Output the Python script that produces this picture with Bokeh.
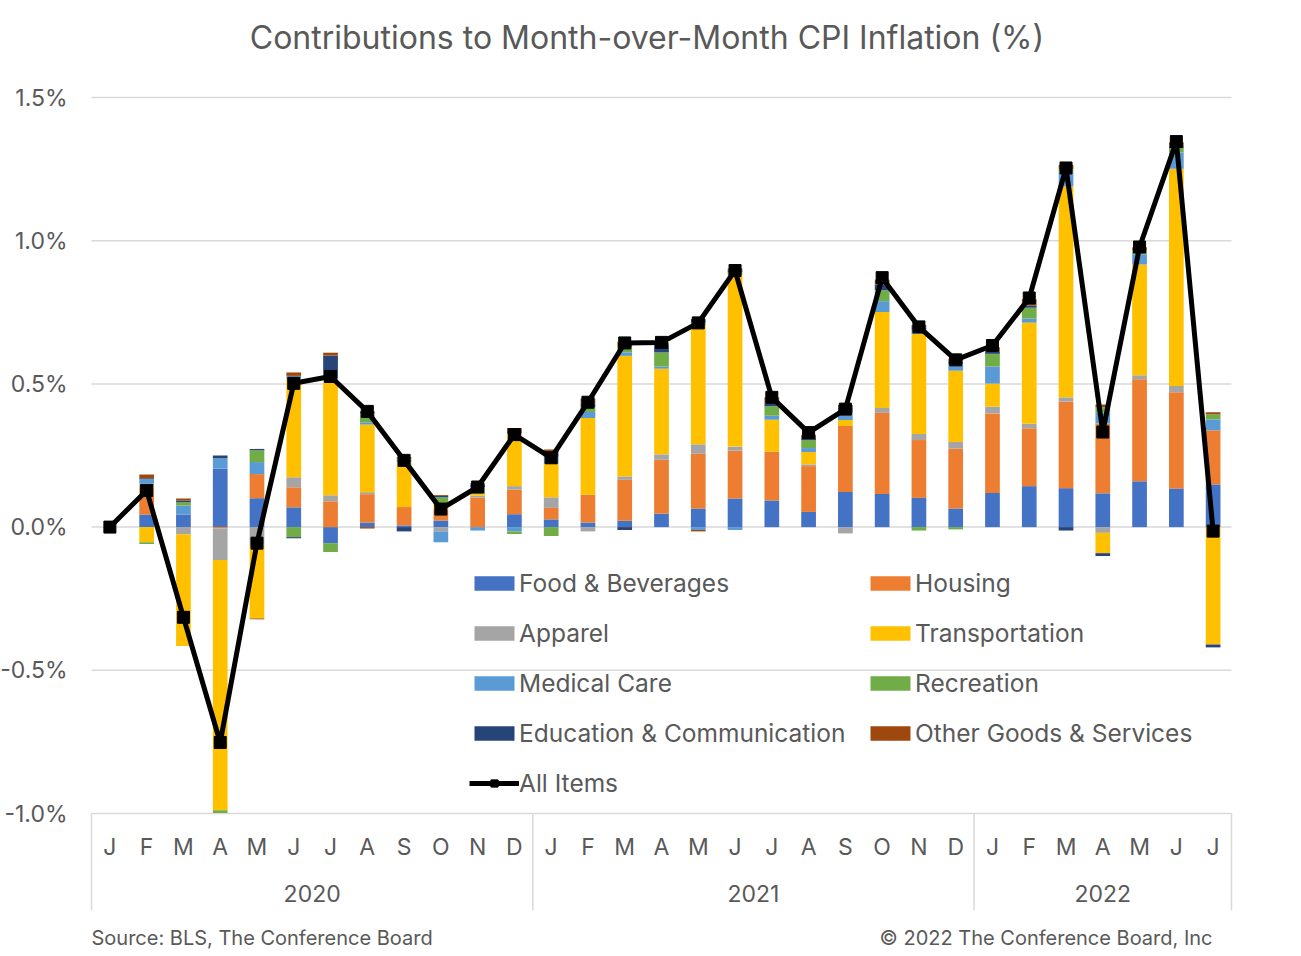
import numpy as np
from bokeh.plotting import figure
from bokeh.models import Range1d, Legend, LegendItem
from bokeh.embed import file_html
from bokeh.resources import INLINE
from bokeh.core.properties import value

# ---------------- data (percentage points) ----------------
years = ["2020", "2021", "2022"]
months_per_year = [12, 12, 7]
month_letters = ["J", "F", "M", "A", "M", "J", "J", "A", "S", "O", "N", "D"]

food = [0.0, 0.044, 0.044, 0.205, 0.101, 0.069, -0.056, 0.016, 0.006, 0.023, 0.0, 0.045,
        0.027, 0.016, 0.022, 0.047, 0.065, 0.100, 0.093, 0.053, 0.123, 0.116, 0.102, 0.065,
        0.119, 0.143, 0.136, 0.118, 0.160, 0.135, 0.149]
housing = [0.0, 0.095, 0.0, -0.005, 0.084, 0.070, 0.090, 0.099, 0.064, 0.038, 0.103, 0.086,
           0.040, 0.097, 0.143, 0.188, 0.191, 0.167, 0.170, 0.160, 0.230, 0.283, 0.202, 0.209,
           0.278, 0.202, 0.302, 0.244, 0.356, 0.336, 0.189]
apparel = [0.0, 0.012, -0.025, -0.110, -0.065, 0.035, 0.021, 0.007, 0.0, -0.015, 0.007, 0.012,
           0.037, -0.015, 0.012, 0.019, 0.033, 0.014, 0.0, 0.006, -0.022, 0.017, 0.021, 0.023,
           0.024, 0.016, 0.015, -0.020, 0.014, 0.022, 0.0]
transportation = [0.0, -0.053, -0.390, -0.874, -0.254, 0.344, 0.400, 0.236, 0.157, 0.020, 0.006, 0.183,
                  0.117, 0.268, 0.421, 0.299, 0.415, 0.601, 0.112, 0.043, 0.021, 0.335, 0.349, 0.249,
                  0.080, 0.353, 0.736, -0.071, 0.387, 0.758, -0.410]
medical = [0.0, 0.016, 0.031, 0.035, 0.042, 0.010, 0.009, 0.008, 0.008, -0.038, -0.012, -0.015,
           0.025, 0.021, 0.012, 0.008, -0.010, -0.010, 0.014, 0.014, 0.017, 0.038, 0.016, 0.024,
           0.060, 0.014, 0.049, 0.038, 0.036, 0.057, 0.038]
recreation = [0.0, -0.006, 0.012, -0.009, 0.041, -0.035, -0.031, 0.031, 0.006, 0.023, 0.023, -0.009,
              -0.031, 0.017, 0.017, 0.049, 0.010, 0.008, 0.033, 0.028, 0.008, 0.038, -0.012, -0.008,
              0.044, 0.038, 0.012, 0.018, 0.012, 0.016, 0.018]
education = [0.0, 0.004, 0.006, 0.010, 0.005, -0.004, 0.079, 0.007, -0.015, 0.005, 0.009, 0.010,
             0.010, 0.012, -0.010, 0.026, 0.012, 0.005, 0.010, 0.010, 0.020, 0.020, 0.008, 0.008,
             0.008, 0.008, -0.012, -0.010, 0.0, 0.008, -0.010]
other = [0.0, 0.013, 0.007, 0.0, -0.003, 0.012, 0.010, -0.005, 0.003, 0.003, 0.005, 0.010,
         0.015, 0.018, 0.020, 0.009, -0.005, 0.008, 0.021, 0.008, 0.008, 0.017, 0.008, 0.010,
         0.015, 0.022, 0.015, 0.010, 0.012, 0.012, 0.007]
all_items = [0.0, 0.128, -0.315, -0.752, -0.056, 0.502, 0.526, 0.404, 0.233, 0.063, 0.140, 0.323,
             0.242, 0.436, 0.643, 0.645, 0.713, 0.896, 0.453, 0.330, 0.412, 0.871, 0.699, 0.584,
             0.634, 0.800, 1.254, 0.332, 0.978, 1.346, -0.014]

series_names = ["Food & Beverages", "Housing", "Apparel", "Transportation",
                "Medical Care", "Recreation", "Education & Communication", "Other Goods & Services"]
series_values = [food, housing, apparel, transportation, medical, recreation, education, other]
series_colors = ["#4472C4", "#ED7D31", "#A5A5A5", "#FFC000",
                 "#5B9BD5", "#70AD47", "#264478", "#9E480E"]

title_text = "Contributions to Month-over-Month  CPI Inflation (%)"
source_text = "Source: BLS, The Conference Board"
copyright_text = "\u00a9 2022 The Conference Board, Inc"
y_ticks = [-1.0, -0.5, 0.0, 0.5, 1.0, 1.5]
y_tick_labels = ["-1.0%", "-0.5%", "0.0%", "0.5%", "1.0%", "1.5%"]

# ---------------- figure ----------------
TXT = "#595959"
GRID = "#D9D9D9"
FONT = "Inter"

n = len(all_items)
idx = np.arange(n)

p = figure(frame_width=1300, frame_height=955, output_backend="svg", toolbar_location=None,
           x_range=Range1d(-2.9746, 32.3763), y_range=Range1d(-1.4958, 1.8387),
           x_axis_location=None, y_axis_location=None,
           min_border_left=0, min_border_right=0, min_border_top=0, min_border_bottom=0)
p.outline_line_color = None
p.xgrid.visible = False
p.ygrid.visible = False
p.background_fill_color = "white"
p.border_fill_color = "white"

# value axis: gridlines and labels
x_lo, x_hi = -0.5, n - 0.5
p.segment(x0=[x_lo] * len(y_ticks), x1=[x_hi] * len(y_ticks), y0=y_ticks, y1=y_ticks,
          line_color=GRID, line_width=1.5)
p.text(x=[-1.1526] * len(y_ticks), y=y_ticks, text=y_tick_labels, text_font=value(FONT),
       text_font_size="23px", text_color=TXT, text_align="right", text_baseline="middle")

# stacked bars, positives upward and negatives downward
pos_cum = np.zeros(n)
neg_cum = np.zeros(n)
bar_renderers = []
for name, vals, col in zip(series_names, series_values, series_colors):
    v = np.array(vals, dtype=float)
    bottom = np.where(v >= 0, pos_cum, neg_cum + v)
    top = np.where(v >= 0, pos_cum + v, neg_cum)
    pos_cum = pos_cum + np.where(v >= 0, v, 0)
    neg_cum = neg_cum + np.where(v < 0, v, 0)
    r = p.vbar(x=idx, bottom=bottom, top=top, width=0.4, fill_color=col, line_color=None)
    bar_renderers.append(r)

line_r = p.line(idx, all_items, line_color="black", line_width=5)
mark_r = p.scatter(idx, all_items, marker="square", size=12, color="black")

# category axis (months / years) with separators
sep_y0 = -1.0
sep_y1 = -1.3387
bounds = [-0.5]
acc = -0.5
for m in months_per_year:
    acc += m
    bounds.append(acc)
p.segment(x0=bounds, x1=bounds, y0=[sep_y0] * len(bounds), y1=[sep_y1] * len(bounds),
          line_color=GRID, line_width=1.5)

mlabels = []
for m in months_per_year:
    mlabels += month_letters[:m]
p.text(x=idx, y=[-1.1159] * n, text=mlabels, text_font=value(FONT), text_font_size="23px",
       text_color=TXT, text_align="center", text_baseline="middle")

ycent = []
start = 0
for m in months_per_year:
    ycent.append(start + (m - 1) / 2)
    start += m
p.text(x=ycent, y=[-1.2800] * len(years), text=years, text_font=value(FONT), text_font_size="23px",
       text_color=TXT, text_align="center", text_baseline="middle")

# title and footnotes
p.text(x=[14.728], y=[1.7095], text=[title_text], text_font=value(FONT), text_font_size="32px",
       text_color=TXT, text_align="center", text_baseline="middle")
p.text(x=[-0.5], y=[-1.433], text=[source_text], text_font=value(FONT), text_font_size="20px",
       text_color=TXT, text_align="left", text_baseline="middle")
p.text(x=[29.984], y=[-1.433], text=[copyright_text], text_font=value(FONT), text_font_size="20px",
       text_color=TXT, text_align="right", text_baseline="middle")

# legends (two columns)
left_items = [LegendItem(label=series_names[i], renderers=[bar_renderers[i]]) for i in (0, 2, 4, 6)]
left_items.append(LegendItem(label="All Items", renderers=[line_r, mark_r]))
right_items = [LegendItem(label=series_names[i], renderers=[bar_renderers[i]]) for i in (1, 3, 5, 7)]

def make_legend(items, loc):
    lg = Legend(items=items, location=loc, orientation="vertical")
    lg.label_text_font = FONT
    lg.label_text_font_size = "24.5px"
    lg.label_text_color = TXT
    lg.glyph_width = 50
    lg.glyph_height = 18
    lg.label_height = 30
    lg.label_standoff = 0
    lg.spacing = 20
    lg.padding = 0
    lg.margin = 0
    lg.border_line_color = None
    lg.background_fill_alpha = 0
    return lg

p.add_layout(make_legend(left_items, (469, 157)), "center")
p.add_layout(make_legend(right_items, (865, 207)), "center")

open("out.html", "w").write(file_html(p, INLINE))
